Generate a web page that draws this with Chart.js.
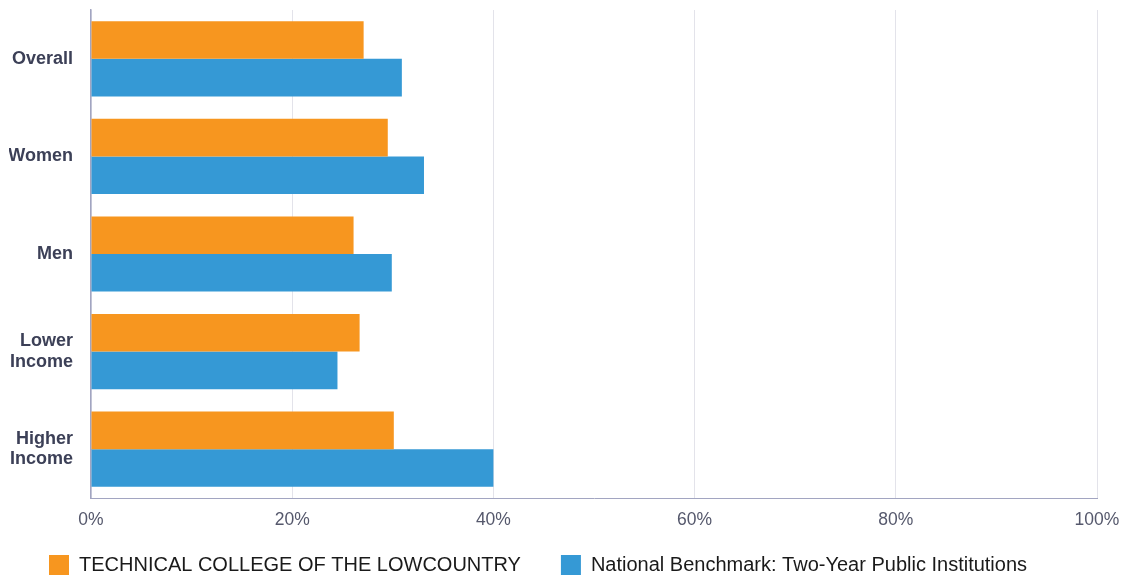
<!DOCTYPE html>
<html><head><meta charset="utf-8">
<script src="https://cdn.jsdelivr.net/npm/chart.js@4/dist/chart.umd.min.js"></script>
<style>html,body{margin:0;padding:0;background:#fff}#wrap{width:1121px;height:576px;position:relative}</style>
</head><body><div id="wrap"><canvas id="c"></canvas></div>
<script>
const categories = ["Overall", "Women", "Men", ["Lower", "Income"], ["Higher", "Income"]];
const seriesNames = ["TECHNICAL COLLEGE OF THE LOWCOUNTRY", "National Benchmark: Two-Year Public Institutions"];
const collegeValues = [27.1, 29.5, 26.1, 26.7, 30.1];
const benchmarkValues = [30.9, 33.1, 29.9, 24.5, 40.0];
const tickValues = [0, 20, 40, 60, 80, 100];
const seriesColors = ["#f7961f", "#3599d5"];

const legendFit = {
  id: 'legendFit',
  beforeLayout(chart) {
    const lg = chart.legend;
    if (lg && !lg._patched) {
      const origFit = lg.fit;
      lg.fit = function () { origFit.call(this); this.height = 33; };
      const origDraw = lg.draw;
      lg.draw = function () {
        const t = this.top;
        this.top = this.bottom - 61;
        origDraw.call(this);
        this.top = t;
      };
      lg._patched = true;
    }
  }
};

new Chart(document.getElementById('c'), {
  type: 'bar',
  data: {
    labels: categories,
    datasets: [
      { label: seriesNames[0], data: collegeValues, backgroundColor: seriesColors[0], borderWidth: 0 },
      { label: seriesNames[1], data: benchmarkValues, backgroundColor: seriesColors[1], borderWidth: 0 }
    ]
  },
  options: {
    indexAxis: 'y',
    responsive: true,
    maintainAspectRatio: false,
    animation: false,
    categoryPercentage: 0.77,
    barPercentage: 1.0,
    layout: { padding: { left: 9, top: 10, right: 0, bottom: 0 } },
    scales: {
      x: {
        min: 0, max: 100,
        afterBuildTicks(scale) { scale.ticks = tickValues.map(v => ({ value: v })); },
        afterFit(scale) { scale.paddingRight = 24; scale.paddingLeft = 0; },
        grid: { color: '#e3e3ea', lineWidth: 1, drawTicks: false },
        border: { display: true, color: '#a2a5c1', width: 1 },
        ticks: {
          padding: 12,
          color: '#55586c',
          font: { family: 'Liberation Sans, Arial, sans-serif', size: 17.5, lineHeight: 1.2 },
          callback: v => v + '%'
        }
      },
      y: {
        afterFit(scale) { scale.width = 82; scale.paddingTop = 0; scale.paddingBottom = 0; },
        grid: { display: false, drawTicks: false },
        border: { display: true, color: '#a2a5c1', width: 1.5 },
        ticks: {
          padding: 18,
          color: '#3c4057',
          font: { family: 'Liberation Sans, Arial, sans-serif', size: 18, weight: 'bold', lineHeight: 1.12 }
        }
      }
    },
    plugins: {
      tooltip: { enabled: false },
      legend: {
        position: 'bottom',
        align: 'start',
        labels: {
          boxWidth: 20,
          boxHeight: 20,
          padding: 40,
          color: '#1a1a1a',
          font: { family: 'Liberation Sans, Arial, sans-serif', size: 20 }
        }
      }
    }
  },
  plugins: [legendFit]
});
</script>
</body></html>
